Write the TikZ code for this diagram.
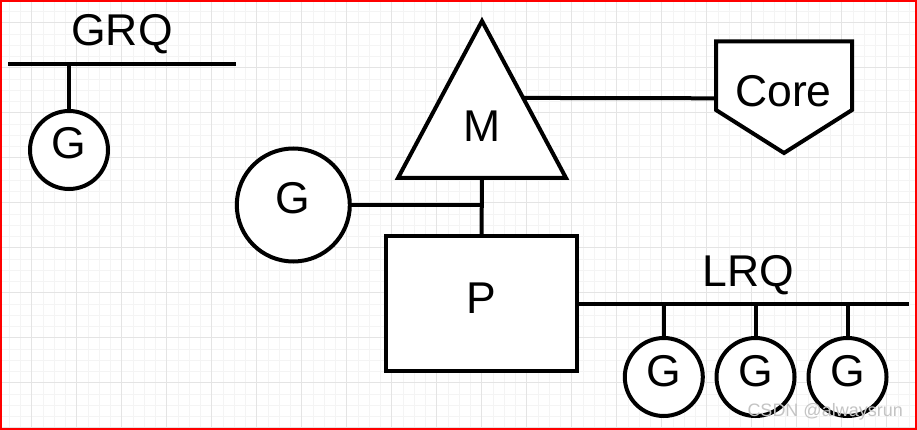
\documentclass[tikz,border=0pt]{standalone}
\usepackage{fontspec}
\setmainfont{Liberation Sans}
\usetikzlibrary{positioning,calc}
\definecolor{GridMinor}{RGB}{244,244,244}
\definecolor{GridMajor}{RGB}{228,228,228}
\definecolor{FrameRed}{RGB}{255,0,0}
\definecolor{MarkGray}{RGB}{196,196,196}
\newcommand{\diagfont}{\fontsize{44.5}{50}\selectfont}

\begin{document}
\begin{tikzpicture}[
  x=1pt, y=-1pt,
  line/.style  = {draw, line width=4pt},
  shp/.style   = {line, fill=white, line join=miter},
  gnode/.style = {circle, shp, minimum size=78pt, inner sep=0pt, outer sep=0pt,
                  text height=31pt, text depth=13pt, font=\diagfont},
  lbl/.style   = {anchor=base, inner sep=0pt, font=\diagfont},
  minor/.style = {GridMinor, line width=0.8pt},
  major/.style = {GridMajor, line width=1pt}
]
\useasboundingbox (0,0) rectangle (917,430);
\fill[white] (0,0) rectangle (917,430);
\foreach \i in {0,...,82}
  \draw[minor] ({-2.05+11.25*\i},0) -- ++(0,430);
\foreach \i in {0,...,38}
  \draw[minor] (0,{0.2+11.25*\i}) -- ++(917,0);
\foreach \i in {0,...,20}
  \draw[major] ({-13.3+45*\i},0) -- ++(0,430);
\foreach \i in {0,...,9}
  \draw[major] (0,{22.7+45*\i}) -- ++(917,0);

\coordinate (grqL) at (8,64);
\coordinate (grqR) at (236,64);
\draw[line] (grqL) -- (grqR);
\node[lbl] (grq) at (122,46) {GRQ};
\node[gnode] (g0) at (69,150) {G};
\draw[line] (g0.north) -- (g0.north|-grqL);

\coordinate (mtop) at (482,21);
\coordinate (mleft) at (398,178);
\coordinate (mright) at (566,178);
\coordinate (mbase) at (482,178);
\draw[shp] (mtop) -- (mright) -- (mleft) -- cycle;
\node[lbl] (m) at (482,142) {M};

\coordinate (ctl) at (716,41.5);
\coordinate (ctr) at (852,41.5);
\coordinate (cbr) at (852,110);
\coordinate (ctip) at (784,153);
\coordinate (cbl) at (716,110);
\coordinate (clink) at (716,98.3);
\draw[shp] (ctl) -- (ctr) -- (cbr) -- (ctip) -- (cbl) -- cycle;
\node[lbl] (core) at (783.5,107) {Core};
\draw[line] ($(mtop)!0.49!(mright)$) -- (clink);

\node[rectangle, shp, minimum width=191pt, minimum height=135pt, inner sep=0pt,
      outer sep=0pt, text height=31pt, text depth=12pt, font=\diagfont]
  (p) at (481.5,303.5) {P};
\draw[line] (mbase) -- (p.north);

\node[gnode, minimum size=113pt] (gm) at (293.3,205) {G};
\draw[line] (gm.east) -- (gm.east-|mbase);

\coordinate (lrqR) at (909,303.7);
\draw[line] (p.east|-lrqR) -- (lrqR);
\node[lbl] (lrq) at (748,286) {LRQ};
\node[gnode] (g1) at (663.8,377) {G};
\node[gnode] (g2) at (755.5,377) {G};
\node[gnode] (g3) at (847.5,377) {G};
\foreach \g in {g1,g2,g3}
  \draw[line] (\g.north) -- (\g.north|-lrqR);

\node[anchor=base east, inner sep=0pt, MarkGray, font=\fontsize{18}{20}\selectfont]
  (mark) at (903,416) {CSDN @alwaysrun};
\draw[FrameRed, line width=2pt] (1,1) rectangle (916,429);
\end{tikzpicture}
\end{document}
